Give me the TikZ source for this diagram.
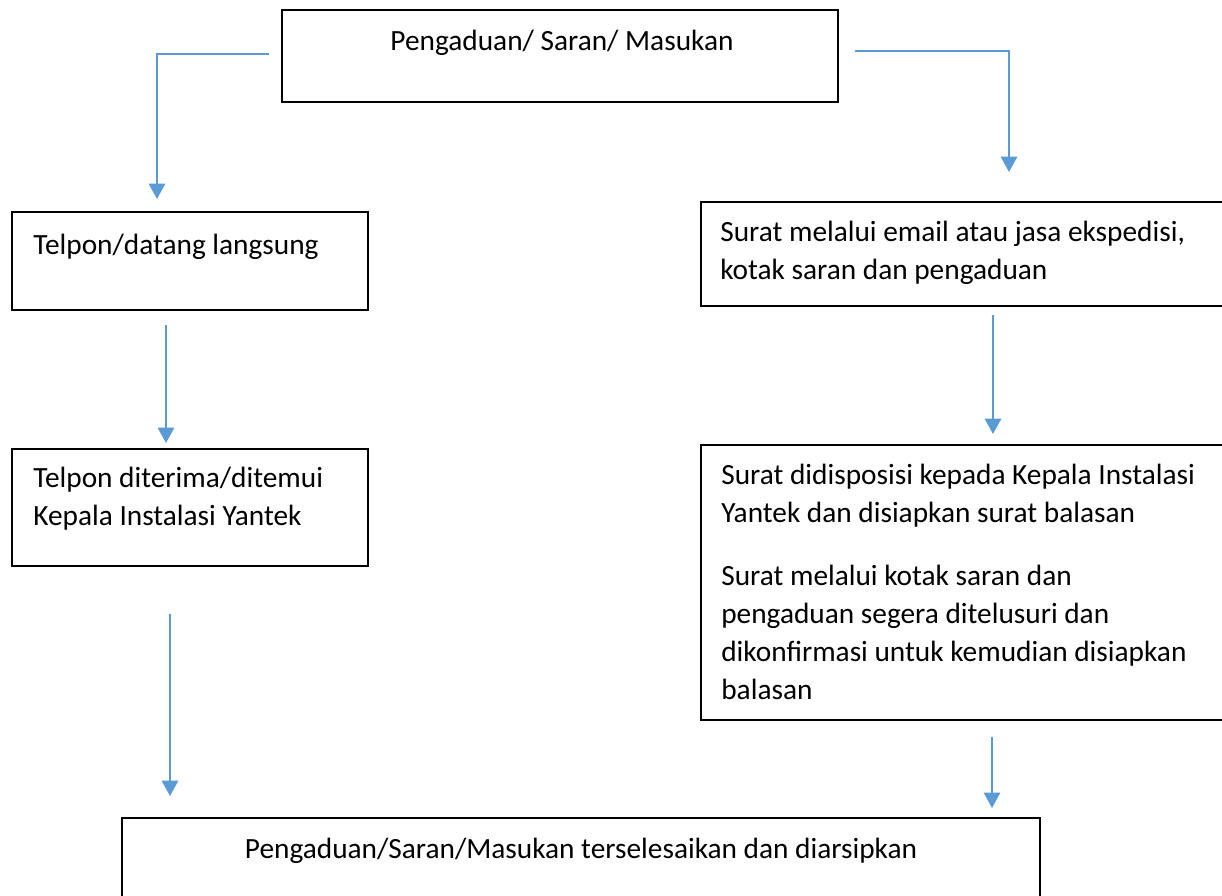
\documentclass[tikz,border=0pt]{standalone}
\usepackage{fontspec}
\setmainfont{Carlito}
\usepackage{tikz}
\usetikzlibrary{positioning,fit,arrows.meta}
\definecolor{flowblue}{HTML}{5B9BD5}

\begin{document}
\begin{tikzpicture}[x=0.75pt,y=-0.75pt,font=\fontsize{22pt}{28.5pt}\selectfont]
    \tikzset{box/.style={draw,rectangle,line width=1.4pt,inner sep=0pt},
      txt/.style={inner sep=0pt,align=left},
      para/.style={txt,anchor=north west,execute at begin node=\strut},
      flow/.style={draw=flowblue,line width=2pt,-{Triangle[width=12pt,length=11.5pt]}}}
    \clip (0,0) rectangle (1222,896);
    % boxes
    \node[box,fit={(282,10) (838,102)}] (start) {};
    \node[box,fit={(12,212) (368,310)}] (l1) {};
    \node[box,fit={(701,202) (1251,306)}] (r1) {};
    \node[box,fit={(12,449) (368,566)}] (l2) {};
    \node[box,fit={(701,445) (1251,720)}] (r2) {};
    \node[box,fit={(122,818) (1040,940)}] (done) {};
    % texts
    \node[txt,anchor=base] (startt) at ([shift={(2,41)}]start.north) {Pengaduan/ Saran/ Masukan};
    \node[txt,anchor=base west] (l1t) at ([shift={(22,43)}]l1.north west) {Telpon/datang langsung};
    \node[para] (r1t) at ([shift={(20,20)}]r1.north west)
      {Surat melalui email atau jasa ekspedisi,\\ kotak saran dan pengaduan};
    \node[para] (l2t) at ([shift={(22,19)}]l2.north west)
      {Telpon diterima/ditemui\\ Kepala Instalasi Yantek};
    \node[para] (r2t) at ([shift={(21,20)}]r2.north west)
      {Surat didisposisi kepada Kepala Instalasi\\ Yantek dan disiapkan surat balasan\\[18.5pt]
       Surat melalui kotak saran dan\\ pengaduan segera ditelusuri dan\\
       dikonfirmasi untuk kemudian disiapkan\\ balasan};
    \node[txt,anchor=base] (donet) at ([shift={(0,41)}]done.north)
      {Pengaduan/Saran/Masukan terselesaikan dan diarsipkan};
    % connectors
    \draw[flow] ([shift={(-12,-2)}]start.west) -| ([shift={(-33,-12)}]l1.north);
    \draw[flow] ([shift={(16,-5)}]start.east) -| ([shift={(33,-29)}]r1.north);
    \draw[flow] ([shift={(-24,14)}]l1.south) -- ([shift={(-24,-5)}]l2.north);
    \draw[flow] ([shift={(17,8)}]r1.south) -- ([shift={(17,-10)}]r2.north);
    \draw[flow] ([shift={(-20,47)}]l2.south) -- ([shift={(-411,-21)}]done.north);
    \draw[flow] ([shift={(16,16)}]r2.south) -- ([shift={(411,-9)}]done.north);
  \end{tikzpicture}
\end{document}
